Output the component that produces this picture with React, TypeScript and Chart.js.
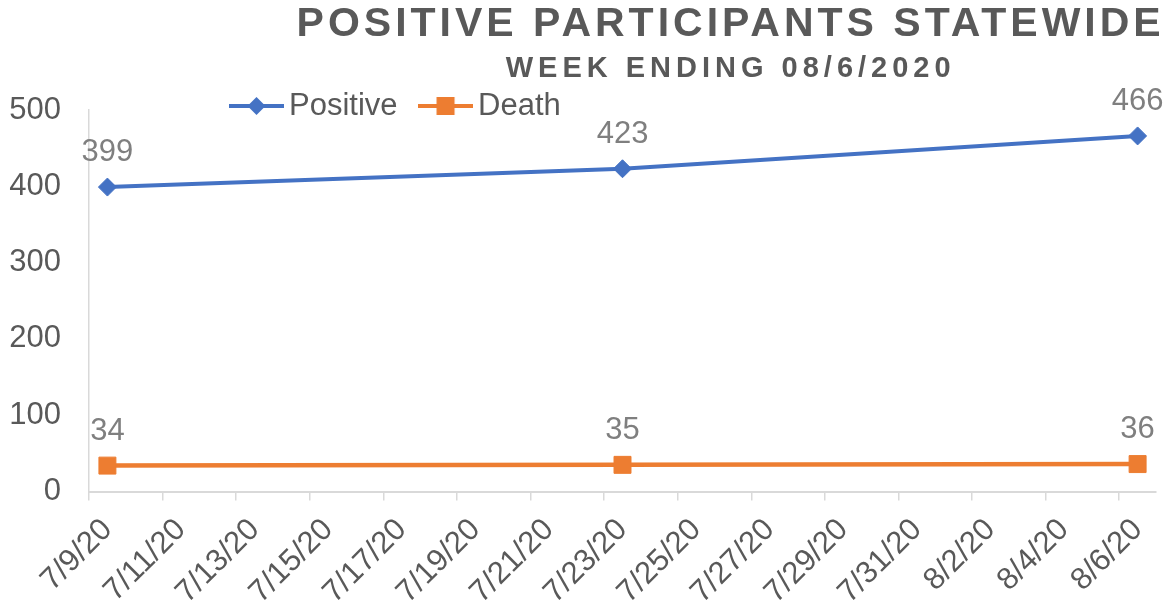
import React, { useEffect, useRef } from 'react';
import { Chart, registerables } from 'chart.js';

Chart.register(...registerables);

const FONT = '"Liberation Sans", Arial, sans-serif';

const TITLE = 'POSITIVE PARTICIPANTS STATEWIDE';
const SUBTITLE = 'WEEK ENDING 08/6/2020';

// Every day on the date axis (labels are shown every second day)
const axisDates = [
  '7/9/20', '7/10/20', '7/11/20', '7/12/20', '7/13/20', '7/14/20', '7/15/20',
  '7/16/20', '7/17/20', '7/18/20', '7/19/20', '7/20/20', '7/21/20', '7/22/20',
  '7/23/20', '7/24/20', '7/25/20', '7/26/20', '7/27/20', '7/28/20', '7/29/20',
  '7/30/20', '7/31/20', '8/1/20', '8/2/20', '8/3/20', '8/4/20', '8/5/20', '8/6/20',
];

const pointDates = ['7/9/20', '7/23/20', '8/6/20'];
const positiveValues = [399, 423, 466];
const deathValues = [34, 35, 36];

const seriesNames = ['Positive', 'Death'];
const seriesColors = ['#4472C4', '#ED7D31'];

const yMin = 0;
const yMax = 500;
const yStep = 100;

function makeLegendIcon(color: string, kind: 'diamond' | 'square'): HTMLCanvasElement {
  const c = document.createElement('canvas');
  c.width = 55;
  c.height = 24;
  const g = c.getContext('2d')!;
  g.strokeStyle = color;
  g.lineWidth = 4;
  g.beginPath();
  g.moveTo(0, 12);
  g.lineTo(55, 12);
  g.stroke();
  g.fillStyle = color;
  if (kind === 'diamond') {
    g.beginPath();
    g.moveTo(27.5 - 9, 12);
    g.lineTo(27.5, 3);
    g.lineTo(27.5 + 9, 12);
    g.lineTo(27.5, 21);
    g.closePath();
    g.fill();
  } else {
    g.fillRect(27.5 - 9, 12 - 9, 18, 18);
  }
  return c;
}

// Lets title, subtitle and legend boxes be nudged and letter-spaced (Excel-like placement)
const boxStylePlugin = {
  id: 'boxStyle',
  beforeDraw(chart: any) {
    chart.boxes.forEach((box: any) => {
      if (box.axis || box.__styled) return;
      const orig = box.draw;
      box.draw = function (area: any) {
        const o = this.options || {};
        const ctx = chart.ctx;
        ctx.save();
        ctx.translate(o.shiftX || 0, o.shiftY || 0);
        if (o.letterSpacing) (ctx as any).letterSpacing = o.letterSpacing;
        orig.call(this, area);
        ctx.restore();
      };
      box.__styled = true;
    });
  },
};

const valueLabelPlugin = {
  id: 'valueLabels',
  afterDatasetsDraw(chart: any) {
    const ctx = chart.ctx;
    ctx.save();
    ctx.font = `31px ${FONT}`;
    ctx.fillStyle = '#7F7F7F';
    ctx.textAlign = 'center';
    ctx.textBaseline = 'alphabetic';
    chart.data.datasets.forEach((ds: any, di: number) => {
      const meta = chart.getDatasetMeta(di);
      meta.data.forEach((pt: any, j: number) => {
        const v = ds.data[j].y;
        ctx.fillText(String(v), pt.x, pt.y - 26);
      });
    });
    ctx.restore();
  },
};

export default function App() {
  const canvasRef = useRef<HTMLCanvasElement | null>(null);

  useEffect(() => {
    if (!canvasRef.current) return;
    const icons = [
      makeLegendIcon(seriesColors[0], 'diamond'),
      makeLegendIcon(seriesColors[1], 'square'),
    ];

    const chart = new Chart(canvasRef.current, {
      type: 'line',
      data: {
        labels: axisDates,
        datasets: [
          {
            label: seriesNames[0],
            data: pointDates.map((d, i) => ({ x: d, y: positiveValues[i] })),
            borderColor: seriesColors[0],
            backgroundColor: seriesColors[0],
            borderWidth: 4,
            pointStyle: 'rectRot',
            pointRadius: 9,
            pointBorderWidth: 1,
            pointBackgroundColor: seriesColors[0],
            pointBorderColor: seriesColors[0],
            tension: 0,
          },
          {
            label: seriesNames[1],
            data: pointDates.map((d, i) => ({ x: d, y: deathValues[i] })),
            borderColor: seriesColors[1],
            backgroundColor: seriesColors[1],
            borderWidth: 4.5,
            pointStyle: 'rect',
            pointRadius: 12,
            pointBorderWidth: 1,
            pointBackgroundColor: seriesColors[1],
            pointBorderColor: seriesColors[1],
            tension: 0,
          },
        ],
      },
      options: {
        responsive: false,
        animation: false,
        events: [],
        layout: {
          autoPadding: false,
          padding: { top: -72, left: 9.3, right: 9, bottom: 0 },
        },
        plugins: {
          title: {
            display: true,
            text: TITLE,
            color: '#595959',
            font: { family: FONT, size: 41, weight: 'bold', lineHeight: '46px' },
            padding: { top: 2, bottom: 0 },
            shiftX: 148,
            letterSpacing: '4px',
          } as any,
          subtitle: {
            display: true,
            text: SUBTITLE,
            color: '#595959',
            font: { family: FONT, size: 29, weight: 'bold', lineHeight: '35px' },
            padding: { top: 3.5, bottom: 23.5 },
            shiftX: 148,
            letterSpacing: '5px',
          } as any,
          legend: {
            display: true,
            position: 'top',
            align: 'start',
            weight: 3000,
            shiftX: 199.2,
            shiftY: 131.5,
            labels: {
              usePointStyle: true,
              pointStyleWidth: 34,
              boxHeight: 24,
              padding: 31,
              color: '#595959',
              font: { family: FONT, size: 31 },
              generateLabels: (c: any) => {
                const items = (Chart.defaults.plugins.legend.labels as any).generateLabels(c);
                return items.map((it: any, i: number) => ({ ...it, pointStyle: icons[i] }));
              },
            },
          } as any,
          tooltip: { enabled: false },
        },
        scales: {
          x: {
            type: 'category',
            offset: true,
            grid: {
              offset: true,
              drawOnChartArea: false,
              drawTicks: true,
              tickLength: 9,
              lineWidth: 1.5,
              color: (ctx: any) =>
                ctx.index !== undefined && ctx.index % 2 === 0 ? '#D9D9D9' : 'rgba(0,0,0,0)',
            },
            border: { display: true, color: '#D9D9D9', width: 2 },
            ticks: {
              autoSkip: false,
              minRotation: 45,
              maxRotation: 45,
              padding: 11,
              color: '#595959',
              font: { family: FONT, size: 31 },
              callback: (_v: any, i: number) => (i % 2 === 0 ? axisDates[i] : ''),
            },
            afterFit: (s: any) => {
              // Chart.js reserves the tick padding twice; keep it once
              s.paddingLeft = 0;
              s.paddingRight = 0;
              s.height -= s.options.ticks.padding;
            },
          },
          y: {
            min: yMin,
            max: yMax,
            grid: { display: false, drawTicks: false },
            border: { display: true, color: '#D9D9D9', width: 1.5 },
            ticks: {
              stepSize: yStep,
              padding: 28,
              color: '#595959',
              font: { family: FONT, size: 31 },
            },
            afterFit: (s: any) => {
              s.width -= s.options.ticks.padding;
            },
          },
        },
      },
      plugins: [boxStylePlugin, valueLabelPlugin],
    } as any);

    return () => chart.destroy();
  }, []);

  return (
    <div style={{ position: 'absolute', left: 0, top: 0, width: 1165, height: 611, background: '#fff' }}>
      <canvas ref={canvasRef} width={1165} height={611} style={{ display: 'block' }} />
    </div>
  );
}
